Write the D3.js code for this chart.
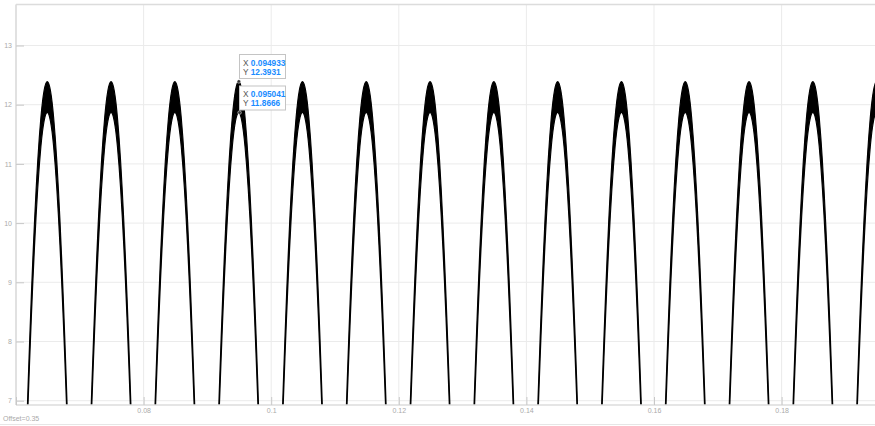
<!DOCTYPE html>
<html>
<head>
<meta charset="utf-8">
<script src="https://cdn.jsdelivr.net/npm/d3@7"></script>
<style>
  html, body { margin: 0; padding: 0; background: #fff; }
  svg { display: block; font-family: "Liberation Sans", Arial, sans-serif; }
</style>
</head>
<body>
<svg id="chart" width="875" height="426"></svg>
<script>
// Times of the rectified humps (s, relative to the 0.35 s offset)
const peakTimes = [0.0549, 0.0649, 0.0749, 0.0849, 0.0949, 0.1049, 0.1149,
                   0.1249, 0.1349, 0.1449, 0.1549, 0.1649, 0.1749, 0.1849, 0.1949];
// Top of the ripple band and bottom of the ripple band at each hump (V)
const upperPeaks = [12.39, 12.39, 12.39, 12.39, 12.3931, 12.39, 12.39,
                    12.39, 12.39, 12.39, 12.39, 12.39, 12.39, 12.39, 12.39];
const lowerPeaks = [11.87, 11.87, 11.87, 11.87, 11.8666, 11.87, 11.87,
                    11.87, 11.87, 11.87, 11.87, 11.87, 11.87, 11.87, 11.87];
// Hump profile: distance from the crest (ms) and level as a share of the crest
const profileOffsetMs = [0, 0.25, 0.5, 0.75, 1.0, 1.25, 1.5, 1.75, 2.0, 2.25,
                         2.5, 2.75, 3.0, 3.25, 3.5, 4.0, 4.5, 5.0];
const profileShare    = [1, 0.9969, 0.9877, 0.9724, 0.9511, 0.9239, 0.8910, 0.8526, 0.8090, 0.7604,
                         0.7071, 0.6494, 0.5878, 0.5225, 0.4540, 0.3090, 0.1564, 0];

// Axis ticks
const xTicks = [0.06, 0.08, 0.10, 0.12, 0.14, 0.16, 0.18];
const xTickLabels = ["", "0.08", "0.1", "0.12", "0.14", "0.16", "0.18"];
const yTicks = [7, 8, 9, 10, 11, 12, 13];

// Data tips
const tips = [
  { x: 0.094933, y: 12.3931, xs: "0.094933", ys: "12.3931" },
  { x: 0.095041, y: 11.8666, xs: "0.095041", ys: "11.8666" }
];
const offsetLabel = "Offset=0.35";

const svg = d3.select("#chart");
const plotLeft = 16, plotRight = 875, plotTop = 4.5, plotBottom = 405;

const x = d3.scaleLinear().domain([0.06, 0.06 + (plotRight - plotLeft) / 6380]).range([plotLeft, plotRight]);
const y = d3.scaleLinear().domain([7 - 4.3 / 59.2, 13 + 41 / 59.2]).range([plotBottom, plotTop]);

// grid
const grid = svg.append("g");
grid.selectAll(".gx").data(xTicks).join("line")
  .attr("x1", d => x(d)).attr("x2", d => x(d))
  .attr("y1", plotTop).attr("y2", plotBottom)
  .attr("stroke", "#ebebeb").attr("stroke-width", 1);
grid.selectAll(".gy").data(yTicks).join("line")
  .attr("x1", plotLeft).attr("x2", plotRight)
  .attr("y1", d => y(d)).attr("y2", d => y(d))
  .attr("stroke", "#ebebeb").attr("stroke-width", 1);

// clip
svg.append("clipPath").attr("id", "plotClip").append("rect")
  .attr("x", plotLeft).attr("y", plotTop).attr("width", plotRight - plotLeft).attr("height", plotBottom - plotTop);

// waveform: ripple band of each rectified hump
const wave = svg.append("g").attr("clip-path", "url(#plotClip)");
peakTimes.forEach((tp, i) => {
  const pts = [];
  for (let k = profileOffsetMs.length - 1; k > 0; k--) pts.push({ t: tp - profileOffsetMs[k] / 1000, s: profileShare[k] });
  for (let k = 0; k < profileOffsetMs.length; k++) pts.push({ t: tp + profileOffsetMs[k] / 1000, s: profileShare[k] });
  const band = d3.area()
    .x(d => x(d.t))
    .y0(d => y(d.s * lowerPeaks[i]))
    .y1(d => y(d.s * upperPeaks[i]))
    .curve(d3.curveMonotoneX);
  wave.append("path").datum(pts).attr("d", band)
    .attr("fill", "#000").attr("stroke", "#000").attr("stroke-width", 1.15)
    .attr("stroke-linejoin", "round");
});

// axes frame
const frame = svg.append("g");
frame.append("line").attr("x1", plotLeft).attr("x2", plotRight).attr("y1", plotTop).attr("y2", plotTop)
  .attr("stroke", "#dcdcdc").attr("stroke-width", 1.4);
frame.append("line").attr("x1", plotLeft).attr("x2", plotRight).attr("y1", plotBottom).attr("y2", plotBottom)
  .attr("stroke", "#dcdcdc").attr("stroke-width", 1.4);
frame.append("line").attr("x1", plotLeft).attr("x2", plotLeft).attr("y1", plotTop).attr("y2", plotBottom)
  .attr("stroke", "#dcdcdc").attr("stroke-width", 1.6);

// y axis ticks and labels
const yAxis = d3.axisLeft(y).tickValues(yTicks).tickSize(-8).tickPadding(4)
  .tickFormat(d3.format("d"));
const gy = svg.append("g").attr("transform", `translate(${plotLeft},0)`).call(yAxis);
gy.select(".domain").remove();
gy.selectAll(".tick line").attr("stroke", "#c8c8c8");
gy.selectAll(".tick text").attr("fill", "#aaa").style("font-size", "7px");

// x axis ticks and labels
const xAxis = d3.axisBottom(x).tickValues(xTicks).tickSize(-8).tickPadding(3)
  .tickFormat((d, i) => xTickLabels[i]);
const gx = svg.append("g").attr("transform", `translate(0,${plotBottom})`).call(xAxis);
gx.select(".domain").remove();
gx.selectAll(".tick line").attr("stroke", "#c8c8c8");
gx.selectAll(".tick text").attr("fill", "#aaa").style("font-size", "7px");

// offset note and lower rule
svg.append("text").attr("x", 3).attr("y", 421).text(offsetLabel)
  .attr("fill", "#aaa").style("font-size", "7px");
svg.append("line").attr("x1", 0).attr("x2", 875).attr("y1", 424.5).attr("y2", 424.5)
  .attr("stroke", "#e6e6e6").attr("stroke-width", 1);

// data tips
const tipG = svg.append("g");
const boxTops = [54.5, 86];
tips.forEach((d, i) => {
  tipG.append("rect").attr("x", 239.5).attr("y", boxTops[i]).attr("width", 46).attr("height", 24)
    .attr("fill", "#fff").attr("stroke", "#c4c4c4").attr("stroke-width", 1);
  const rows = [["X", d.xs], ["Y", d.ys]];
  rows.forEach((r, j) => {
    const t = tipG.append("text").attr("x", 243).attr("y", boxTops[i] + 11 + j * 9.3)
      .style("font-size", "8.3px");
    t.append("tspan").attr("fill", "#555").text(r[0] + " ");
    t.append("tspan").attr("fill", "#1a8cff").attr("font-weight", "bold").text(r[1]);
  });
  tipG.append("circle").attr("cx", x(d.x)).attr("cy", y(d.y)).attr("r", 1.8)
    .attr("fill", "#333").attr("stroke", "#fff").attr("stroke-width", 0.5);
});
</script>
</body>
</html>
